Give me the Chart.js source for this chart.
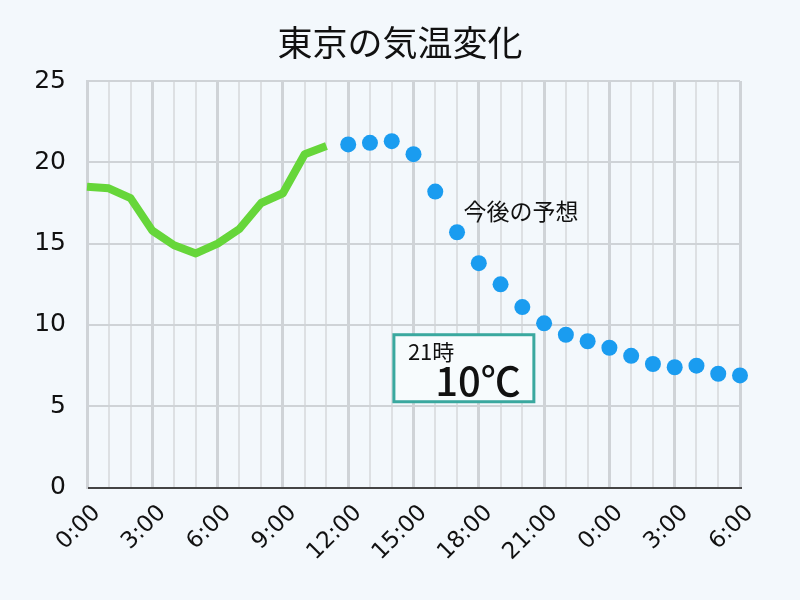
<!DOCTYPE html>
<html>
<head>
<meta charset="utf-8">
<script src="https://cdn.jsdelivr.net/npm/chart.js@4"></script>
<style>
  html, body { margin: 0; padding: 0; background: #f3f8fc; }
  #wrap { width: 800px; height: 600px; }
</style>
</head>
<body>
<div id="wrap"><canvas id="myChart"></canvas></div>
<script>
const hours = ["0:00","1:00","2:00","3:00","4:00","5:00","6:00","7:00","8:00","9:00","10:00","11:00",
  "12:00","13:00","14:00","15:00","16:00","17:00","18:00","19:00","20:00","21:00","22:00","23:00",
  "0:00","1:00","2:00","3:00","4:00","5:00","6:00"];
const observed = [18.5, 18.4, 17.8, 15.8, 14.9, 14.4, 15.0, 15.9, 17.5, 18.1, 20.5, 21.0];
const forecast = [21.1, 21.2, 21.3, 20.5, 18.2, 15.7, 13.8, 12.5, 11.1, 10.1, 9.4, 9.0, 8.6, 8.1, 7.6, 7.4, 7.5, 7.0, 6.9];
const yTicks = [0, 5, 10, 15, 20, 25];
const title = '東京の気温変化';

const jp = '"Noto Sans CJK JP", sans-serif';
const num = '"DejaVu Sans", "Noto Sans CJK JP", sans-serif';

// pad the two series onto the full 31 hour axis
const observedData = hours.map((h, i) => i < observed.length ? observed[i] : null);
const forecastData = hours.map((h, i) => i >= 12 ? forecast[i - 12] : null);

const notes = {
    id: 'notes',
    afterDraw(chart) {
        const c = chart.ctx;
        const x = chart.scales.x, y = chart.scales.y;
        c.save();
        // title, centred on the whole canvas
        c.fillStyle = '#111';
        c.font = '35px ' + jp;
        c.textAlign = 'center';
        c.textBaseline = 'middle';
        c.fillText(title, chart.width / 2, 43);

        // 今後の予想
        c.textAlign = 'left';
        c.font = '23px ' + jp;
        c.fillText('今後の予想', x.getPixelForValue(17.3), y.getPixelForValue(17.0));

        // 21時 box
        const l = x.getPixelForValue(14.1), r = x.getPixelForValue(20.53);
        const t = y.getPixelForValue(9.4), b = y.getPixelForValue(5.28);
        c.fillStyle = '#f7fbfd';
        c.fillRect(l, t, r - l, b - t);
        c.strokeStyle = '#3aa89f';
        c.lineWidth = 3;
        c.strokeRect(l, t, r - l, b - t);
        c.fillStyle = '#111';
        c.font = '22px ' + jp;
        c.textBaseline = 'alphabetic';
        c.fillText('21時', l + 14, t + 25);
        c.font = '500 40px ' + jp;
        c.textAlign = 'right';
        c.fillText('10℃', r - 13, b - 6);
        c.restore();
    }
};

new Chart(document.getElementById('myChart'), {
    type: 'line',
    data: {
        labels: hours,
        datasets: [
            {
                label: '実測',
                data: observedData,
                borderColor: '#66d63a',
                borderWidth: 8,
                pointRadius: 0,
                tension: 0,
                borderJoinStyle: 'round',
                spanGaps: false
            },
            {
                label: '予想',
                data: forecastData,
                showLine: false,
                pointRadius: 8,
                pointBorderWidth: 0,
                pointBackgroundColor: '#1a9cf0',
                borderColor: '#1a9cf0'
            }
        ]
    },
    options: {
        responsive: true,
        maintainAspectRatio: false,
        animation: false,
        layout: { padding: { left: 34, right: 60, top: 81, bottom: 22 } },
        plugins: {
            legend: { display: false },
            tooltip: { enabled: false },
            title: { display: false }
        },
        scales: {
            x: {
                offset: false,
                grid: {
                    color: ctx => ctx.index % 3 === 0 ? '#cfd3d7' : '#dde0e3',
                    lineWidth: ctx => ctx.index % 3 === 0 ? 3 : 2,
                    drawTicks: false
                },
                border: { color: '#444', width: 2 },
                ticks: {
                    autoSkip: false,
                    maxRotation: 45,
                    minRotation: 45,
                    padding: 12,
                    labelOffset: 10,
                    color: '#111',
                    font: { size: 23, family: num },
                    callback: function (v, i) { return i % 3 === 0 ? this.getLabelForValue(v) : ''; }
                }
            },
            y: {
                min: 0,
                max: 25,
                afterBuildTicks: axis => { axis.ticks = yTicks.map(v => ({ value: v })); },
                afterFit: axis => { axis.width = 53; },
                grid: { color: '#cfd3d7', lineWidth: 2, drawTicks: false },
                border: { color: '#cfd3d7', width: 2 },
                ticks: {
                    padding: 21,
                    color: '#111',
                    font: { size: 25, family: num }
                }
            }
        }
    },
    plugins: [notes]
});
</script>
</body>
</html>
